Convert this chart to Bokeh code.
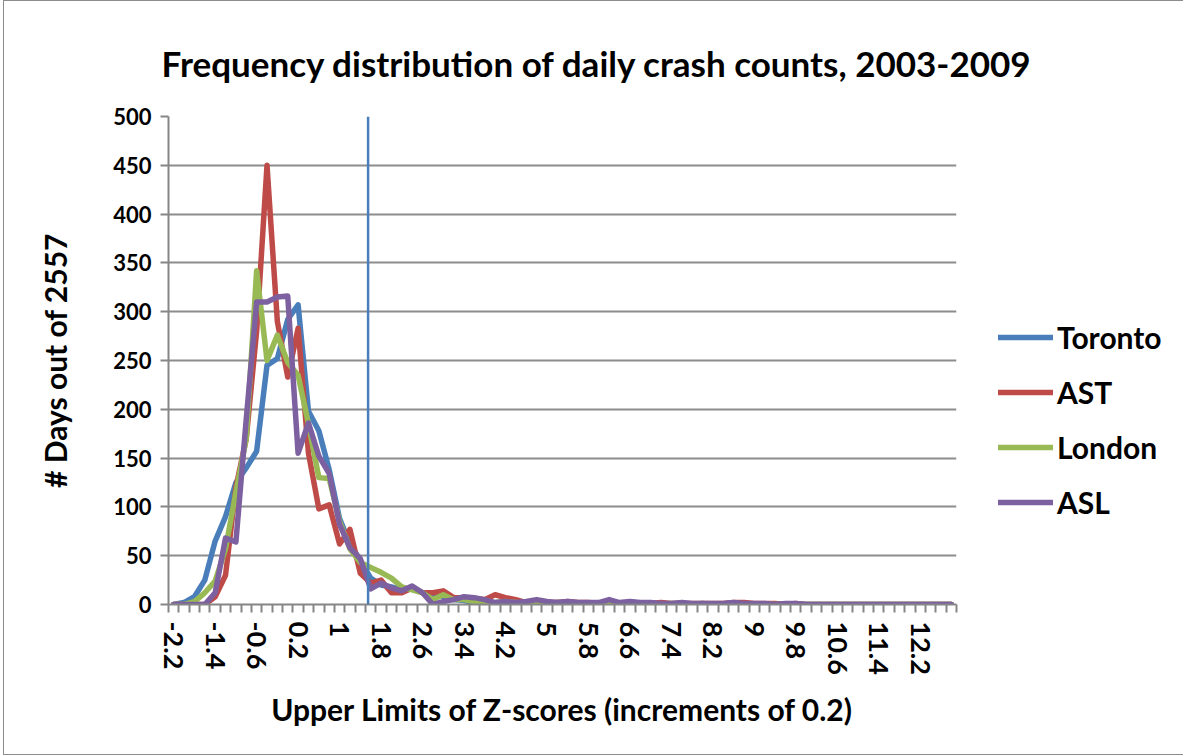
from bokeh.plotting import figure
from bokeh.models import (Range1d, FixedTicker, Span, Legend, LegendItem, Title)
from bokeh.embed import file_html
from bokeh.resources import INLINE

# ---- data -------------------------------------------------------------
z_upper = [-2.2, -2.0, -1.8, -1.6, -1.4, -1.2, -1.0, -0.8, -0.6, -0.4,
           -0.2, 0.0, 0.2, 0.4, 0.6, 0.8, 1.0, 1.2, 1.4, 1.6,
           1.8, 2.0, 2.2, 2.4, 2.6, 2.8, 3.0, 3.2, 3.4, 3.6,
           3.8, 4.0, 4.2, 4.4, 4.6, 4.8, 5.0, 5.2, 5.4, 5.6,
           5.8, 6.0, 6.2, 6.4, 6.6, 6.8, 7.0, 7.2, 7.4, 7.6,
           7.8, 8.0, 8.2, 8.4, 8.6, 8.8, 9.0, 9.2, 9.4, 9.6,
           9.8, 10.0, 10.2, 10.4, 10.6, 10.8, 11.0, 11.2, 11.4, 11.6,
           11.8, 12.0, 12.2, 12.4, 12.6, 12.8]

toronto = [0, 2, 8, 25, 65, 90, 125, 140, 157, 245,
           252, 292, 307, 198, 178, 138, 88, 62, 45, 27,
           20, 18, 15, 17, 12, 10, 8, 5, 4, 2,
           0, 1, 2, 3, 2, 1, 1, 2, 1, 1,
           0, 1, 2, 1, 1, 1, 0, 1, 0, 0,
           0, 1, 0, 0, 0, 0, 0, 0, 0, 0,
           0, 0, 0, 0, 0, 0, 0, 0, 0, 0,
           0, 0, 0, 0, 0, 0]

ast = [0, 0, 0, 0, 8, 30, 120, 170, 280, 450,
       290, 233, 283, 155, 98, 102, 62, 77, 32, 22,
       25, 12, 12, 17, 12, 12, 14, 7, 7, 5,
       5, 10, 7, 5, 2, 3, 2, 2, 3, 2,
       2, 1, 2, 1, 1, 1, 1, 2, 1, 1,
       1, 1, 1, 1, 2, 2, 1, 1, 1, 0,
       1, 0, 0, 0, 0, 0, 0, 0, 0, 0,
       0, 0, 0, 0, 0, 0]

london = [0, 0, 3, 12, 24, 57, 115, 170, 342, 250,
          276, 248, 235, 185, 130, 129, 85, 57, 43, 38,
          33, 27, 18, 15, 12, 5, 10, 5, 5, 3,
          2, 2, 3, 2, 1, 2, 1, 2, 1, 1,
          1, 0, 1, 1, 0, 1, 0, 0, 1, 1,
          0, 1, 0, 0, 0, 0, 0, 0, 0, 0,
          0, 0, 0, 0, 0, 0, 0, 0, 0, 0,
          0, 0, 0, 0, 0, 0]

asl = [0, 0, 0, 0, 12, 68, 64, 190, 310, 310,
       315, 316, 155, 186, 152, 134, 82, 58, 47, 16,
       22, 17, 14, 19, 12, 0, 3, 5, 8, 7,
       5, 2, 3, 2, 3, 5, 3, 2, 3, 2,
       2, 2, 5, 2, 3, 2, 2, 1, 1, 2,
       1, 1, 1, 1, 2, 1, 1, 1, 0, 1,
       1, 0, 0, 0, 0, 0, 0, 0, 0, 0,
       0, 0, 0, 0, 0, 0]

series_names = ["Toronto", "AST", "London", "ASL"]
series_values = [toronto, ast, london, asl]
series_colors = ["#4A7EBB", "#BE4B48", "#98B954", "#7D60A0"]

threshold_z = 1.55
label_every = 4

# ---- figure -----------------------------------------------------------
FONT = "Lato"
n = len(z_upper)
idx = list(range(n))

p = figure(frame_width=788, frame_height=488, output_backend="svg",
           toolbar_location=None,
           x_range=Range1d(-0.5, n - 0.5), y_range=Range1d(0, 500),
           min_border_left=164, min_border_top=115, min_border_bottom=150,
           min_border_right=225)
p.margin = (0, 0, 0, 3)
p.outline_line_color = None
p.background_fill_color = "white"
p.border_fill_color = "white"
p.styles = {"border": "1px solid #8c8c8c"}

title = Title(text="Frequency distribution of daily crash counts, 2003-2009",
              align="left", text_font=FONT, text_font_size="35px",
              text_font_style="bold", text_color="black", standoff=65,
              offset=-7)
p.add_layout(title, "above")

# y axis
p.yaxis.ticker = FixedTicker(ticks=[0, 50, 100, 150, 200, 250, 300, 350, 400, 450, 500])
p.yaxis.axis_label = "# Days out of 2557"
p.yaxis.axis_label_text_font = FONT
p.yaxis.axis_label_text_font_size = "30px"
p.yaxis.axis_label_text_font_style = "bold"
p.yaxis.axis_label_text_color = "black"
p.yaxis.axis_label_standoff = 37
p.yaxis.major_label_text_font = FONT
p.yaxis.major_label_text_font_size = "22px"
p.yaxis.major_label_text_font_style = "bold"
p.yaxis.major_label_text_color = "black"
p.yaxis.major_label_standoff = 9
p.yaxis.axis_line_color = "#868686"
p.yaxis.axis_line_width = 2
p.yaxis.major_tick_line_color = "#868686"
p.yaxis.major_tick_line_width = 2
p.yaxis.major_tick_out = 8
p.yaxis.major_tick_in = 0
p.yaxis.minor_tick_line_color = None

# x axis
label_idx = idx[::label_every]
p.xaxis.ticker = FixedTicker(ticks=label_idx,
                             minor_ticks=[i - 0.5 for i in range(n + 1)])
p.xaxis.major_label_overrides = {i: f"{z_upper[i]:g}" for i in label_idx}
p.xaxis.major_label_orientation = "vertical"
p.xaxis.major_label_text_font = FONT
p.xaxis.major_label_text_font_size = "27px"
p.xaxis.major_label_text_font_style = "bold"
p.xaxis.major_label_text_color = "black"
p.xaxis.major_label_standoff = 9
p.xaxis.major_tick_out = 0
p.xaxis.major_tick_in = 0
p.xaxis.minor_tick_out = 8
p.xaxis.minor_tick_in = 0
p.xaxis.minor_tick_line_color = "#868686"
p.xaxis.minor_tick_line_width = 2
p.xaxis.axis_line_color = "#868686"
p.xaxis.axis_line_width = 2
p.xaxis.axis_label = "Upper Limits of Z-scores (increments of 0.2)"
p.xaxis.axis_label_text_font = FONT
p.xaxis.axis_label_text_font_size = "30px"
p.xaxis.axis_label_text_font_style = "bold"
p.xaxis.axis_label_text_color = "black"
p.xaxis.axis_label_standoff = 13

p.xgrid.grid_line_color = None
p.ygrid.grid_line_color = "#8c8c8c"
p.ygrid.grid_line_width = 2

items = []
for name, vals, col in zip(series_names, series_values, series_colors):
    r = p.line(idx, vals, line_color=col, line_width=5.5,
               line_join="round", line_cap="round")
    items.append(LegendItem(label=name, renderers=[r]))

thr = Span(location=(threshold_z - z_upper[0]) / (z_upper[1] - z_upper[0]),
           dimension="height", line_color="#4A7EBB", line_width=2.5)
p.add_layout(thr)

legend = Legend(items=items, location=(42, 84), orientation="vertical",
                label_text_font=FONT, label_text_font_size="30px",
                label_text_font_style="bold", label_text_color="black",
                glyph_width=55, glyph_height=30, label_height=30,
                label_standoff=4, spacing=19, padding=0, margin=0,
                border_line_color=None, background_fill_alpha=0)
p.add_layout(legend, "right")

open("out.html", "w").write(file_html(p, INLINE))
